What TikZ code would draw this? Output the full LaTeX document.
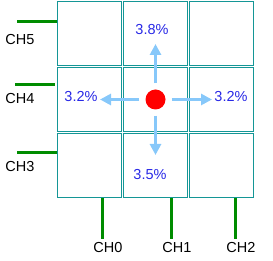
\documentclass[tikz,border=0pt]{standalone}
\usepackage{fontspec}
\setmainfont{Liberation Sans}
\usetikzlibrary{calc}
\usetikzlibrary{positioning}
\usetikzlibrary{arrows.meta}

\definecolor{gridteal}{RGB}{20,150,150}
\definecolor{leadgreen}{RGB}{0,140,0}
\definecolor{flowblue}{RGB}{135,200,250}
\definecolor{pctblue}{RGB}{40,40,230}

\begin{document}
\begin{tikzpicture}[
    x=1pt, y=-1pt,
    % Define styles for the cells and the hit
    cell/.style={rectangle, draw=gridteal, line width=1.1pt, minimum size=64.8pt, inner sep=0pt},
    hit/.style={circle, fill=red, minimum size=20pt, inner sep=0pt},
    % Define lead and arrow styles
    lead/.style={draw=leadgreen, line width=3pt},
    flow/.style={draw=flowblue, line width=3pt, shorten <=6pt, -{Triangle[width=11pt,length=11pt]}},
    pct/.style={text=pctblue, font=\fontsize{14.5}{16}\selectfont, inner sep=0pt},
    chname/.style={font=\fontsize{14.5}{16}\selectfont, inner sep=0pt}
]
    \useasboundingbox (0,0) rectangle (273,261);

    % --- Configuration ---
    \def\pitch{66}   % Distance between cell centres
    \def\xzero{89.5} % Centre of the first column
    \def\yzero{33.5} % Centre of the first row

    % --- The 3x3 Grid ---
    \foreach \c in {0,1,2} {
        \foreach \r in {0,1,2} {
            \node[cell] (cell\c\r) at (\xzero+\pitch*\c, \yzero+\pitch*\r) {};
        }
    }

    % --- Left Leads (rows) ---
    \foreach \y/\x/\ly [count=\i from 3] in {153/17/167, 85/15/99, 22/17/40} {
        \coordinate (L\i_a) at (\x,\y);
        \coordinate (L\i_b) at (\x+40,\y);
        \draw[lead] (L\i_a) -- (L\i_b);
        \node[chname] (CH\i) at (20,\ly) {CH\i};
    }

    % --- Bottom Leads (columns) ---
    \foreach \x [count=\i from 0] in {102, 171, 235} {
        \coordinate (B\i_a) at (\x,198);
        \coordinate (B\i_b) at (\x,239);
        \draw[lead] (B\i_a) -- (B\i_b);
        \node[chname] (CH\i) at (\x+6,248) {CH\i};
    }

    % --- The Hit and its Sharing ---
    \node[hit] (dot) at (cell11) {};

    \coordinate (tipN) at (155.5,44);
    \coordinate (tipS) at (155.5,155);
    \coordinate (tipW) at (100,99.5);
    \coordinate (tipE) at (212,99.5);

    \draw[flow] (dot.north) -- (tipN);
    \draw[flow] (dot.south) -- (tipS);
    \draw[flow] (dot.west) -- (tipW);
    \draw[flow] (dot.east) -- (tipE);

    \node[pct] (pN) at (152,30) {3.8\%};
    \node[pct] (pS) at (150,175) {3.5\%};
    \node[pct] (pW) at (81,97) {3.2\%};
    \node[pct] (pE) at (231,97) {3.2\%};

\end{tikzpicture}
\end{document}
